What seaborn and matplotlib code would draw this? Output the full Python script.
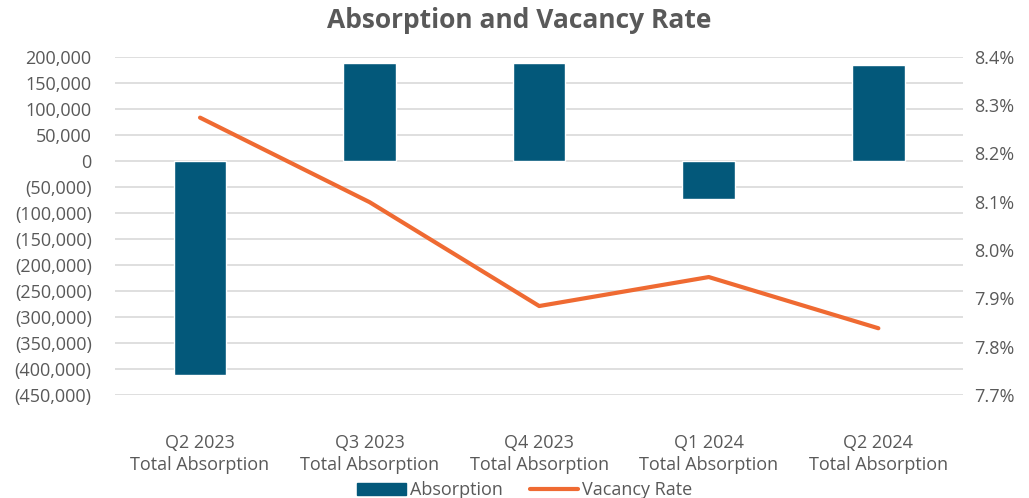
import matplotlib
matplotlib.use("Agg")
import matplotlib.pyplot as plt
from matplotlib.ticker import FuncFormatter, MultipleLocator
from matplotlib.patches import Patch
from matplotlib.lines import Line2D
import seaborn as sns
import pandas as pd

#chart values
quarters = ['Q2 2023\nTotal Absorption', 'Q3 2023\nTotal Absorption',
            'Q4 2023\nTotal Absorption', 'Q1 2024\nTotal Absorption',
            'Q2 2024\nTotal Absorption']
absorption = [-412000, 188000, 188000, -73000, 185000]
vacancy = [8.274, 8.099, 7.884, 7.944, 7.838]

bar_color = '#03587A'
line_color = '#EF6A32'
text_color = '#595959'

sns.set_style("white")
plt.rcParams['font.family'] = ['Open Sans', 'DejaVu Sans']

data = pd.DataFrame({'quarter': quarters, 'absorption': absorption, 'vacancy': vacancy})

fig = plt.figure(figsize=(10.29, 4.98), dpi=100)
ax = fig.add_axes([0.112, 0.207, 0.824, 0.679])

#bars for absorption on the left axis
sns.barplot(data=data, x='quarter', y='absorption', color=bar_color,
            width=0.31, saturation=1, ax=ax, zorder=3)
ax.set_ylim(-450000, 200000)
ax.yaxis.set_major_locator(MultipleLocator(50000))
ax.yaxis.set_major_formatter(FuncFormatter(
    lambda v, p: '{:,.0f}'.format(v) if v >= 0 else '({:,.0f})'.format(-v)))
ax.grid(axis='y', color='#D9D9D9', linewidth=1.2, zorder=0)
ax.set_axisbelow(True)
ax.set_xlabel('')
ax.set_ylabel('')

#vacancy rate on the right axis
ax2 = ax.twinx()
sns.lineplot(data=data, x='quarter', y='vacancy', color=line_color,
             linewidth=3, sort=False, ax=ax2)
ax2.set_ylim(7.7, 8.4)
ax2.yaxis.set_major_locator(MultipleLocator(0.1))
ax2.yaxis.set_major_formatter(FuncFormatter(lambda v, p: '{:.1f}%'.format(v)))
ax2.set_ylabel('')
ax2.set_xlabel('')
ax.set_xlim(-0.5, 4.5)

for a in [ax, ax2]:
    for s in a.spines.values():
        s.set_visible(False)
    a.tick_params(length=0, labelsize=13, labelcolor=text_color)
ax.tick_params(axis='y', pad=17)
ax2.tick_params(axis='y', pad=8)
ax.tick_params(axis='x', pad=28)
for lbl in ax.get_xticklabels():
    lbl.set_linespacing(1.3)

fig.suptitle('Absorption and Vacancy Rate', x=0.505, y=0.985,
             fontsize=19, fontweight='bold', color=text_color)

#legend along the bottom
handles = [Patch(color=bar_color), Line2D([0], [0], color=line_color, linewidth=3)]
fig.legend(handles, ['Absorption', 'Vacancy Rate'], loc='lower center',
           bbox_to_anchor=(0.51, -0.035), ncol=2, frameon=False, fontsize=13,
           labelcolor=text_color, handlelength=2.7, handletextpad=0.2,
           columnspacing=1.5)

fig.savefig('out.png', dpi=100)
